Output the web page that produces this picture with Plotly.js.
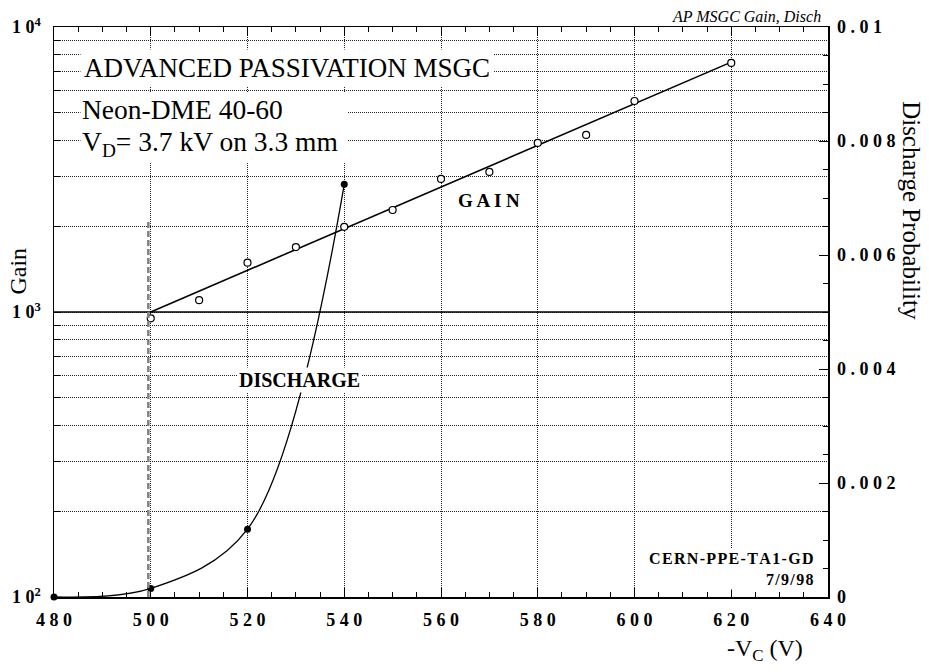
<!DOCTYPE html>
<html>
<head>
<meta charset="utf-8">
<script src="https://cdn.plot.ly/plotly-3.0.1.min.js"></script>
<style>html,body{margin:0;padding:0;background:#fff;}</style>
</head>
<body>
<div id="chart" style="width:929px;height:672px;"></div>
<script>
// ---- data ----
const xTickVals = [480, 500, 520, 540, 560, 580, 600, 620, 640];
const gainV = [500, 510, 520, 530, 540, 550, 560, 570, 580, 590, 600, 620];
const gainVal = [950, 1100, 1490, 1690, 1990, 2280, 2930, 3100, 3920, 4180, 5500, 7480];
const fitV = [500, 620];
const fitGain = [1000, 7530];
const dischV = [480, 500, 520, 540];
const dischProb = [0, 0.00015, 0.00119, 0.00724];
const gainDecades = [100, 1000, 10000];
const gainDecadeLabels = ['1 0<sup>2</sup>', '1 0<sup>3</sup>', '1 0<sup>4</sup>'];
const probTickVals = [0, 0.002, 0.004, 0.006, 0.008, 0.01];
const probTickLabels = ['0', '0.002', '0.004', '0.006', '0.008', '0.01'];

// ---- derived tick tables ----
const spaced = s => String(s).split('').join(' ');
const hair = s => String(s).split('').join('\u200A');
const xTickText = xTickVals.map(spaced);
const gainTickVals = [];
const gainTickText = [];
for (let d = 0; d < gainDecades.length; d++) {
  gainTickVals.push(gainDecades[d]);
  gainTickText.push(gainDecadeLabels[d]);
  if (d < gainDecades.length - 1) {
    for (let m = 2; m <= 9; m++) { gainTickVals.push(gainDecades[d] * m); gainTickText.push(''); }
  }
}
const probTickText = probTickLabels.map(spaced);

const serif = '"Liberation Serif", "Times New Roman", serif';

const traces = [
  { x: dischV, y: dischProb, yaxis: 'y2', type: 'scatter', mode: 'lines',
    line: { color: 'black', width: 1.3, shape: 'spline', smoothing: 1 }, hoverinfo: 'skip' },
  { x: dischV, y: dischProb, yaxis: 'y2', type: 'scatter', mode: 'markers', cliponaxis: false,
    marker: { color: 'black', size: 7, symbol: 'circle' } },
  { x: fitV, y: fitGain, type: 'scatter', mode: 'lines',
    line: { color: 'black', width: 1.6 } },
  { x: gainV, y: gainVal, type: 'scatter', mode: 'markers', cliponaxis: false,
    marker: { color: 'white', size: 7, symbol: 'circle', line: { color: 'black', width: 1.2 } } }
];

const gridDash = '1px,1px';

const layout = {
  width: 929, height: 672,
  margin: { l: 54, r: 101, t: 27, b: 75 },
  paper_bgcolor: 'white', plot_bgcolor: 'white',
  showlegend: false,
  font: { family: serif, color: 'black' },
  xaxis: {
    range: [480, 640], tickvals: xTickVals, ticktext: xTickText,
    tickfont: { family: serif, size: 18, weight: 'bold', color: 'black' },
    showline: true, linecolor: 'black', linewidth: 1.5, mirror: 'ticks',
    ticks: 'inside', ticklen: 9, tickcolor: 'black', tickwidth: 1,
    showgrid: true, gridcolor: '#222', gridwidth: 1, griddash: gridDash,
    zeroline: false, ticklabelstandoff: 6,
    minor: { dtick: 5, tick0: 480, ticks: 'inside', ticklen: 5, tickcolor: 'black', showgrid: false }
  },
  yaxis: {
    type: 'log', range: [2, 4], tickvals: gainTickVals, ticktext: gainTickText,
    tickfont: { family: serif, size: 18, weight: 'bold', color: 'black' },
    showline: true, linecolor: 'black', linewidth: 1.5, mirror: false,
    ticks: 'inside', ticklen: 6, tickcolor: 'black',
    showgrid: true, gridcolor: '#222', gridwidth: 1, griddash: gridDash,
    zeroline: false, ticklabelstandoff: 8
  },
  yaxis2: {
    overlaying: 'y', side: 'right', range: [0, 0.01],
    tickvals: probTickVals, ticktext: probTickText,
    tickfont: { family: serif, size: 18, weight: 'bold', color: 'black' },
    showline: true, linecolor: 'black', linewidth: 1.5,
    ticks: 'inside', ticklen: 9, tickcolor: 'black',
    showgrid: false, zeroline: false, ticklabelstandoff: 4,
    minor: { dtick: 0.0005, tick0: 0, ticks: 'inside', ticklen: 5, tickcolor: 'black', showgrid: false }
  },
  shapes: [
    { type: 'line', xref: 'paper', x0: 0, x1: 1, yref: 'y', y0: 1000, y1: 1000,
      line: { color: 'black', width: 1.3 }, layer: 'above' },
    { type: 'line', xref: 'x', x0: 499.5, x1: 499.5, yref: 'y', y0: 100, y1: 2100,
      line: { color: '#808080', width: 2.5, dash: '6px,3px' }, layer: 'above' }
  ],
  annotations: [
    { xref: 'x', yref: 'y', x: 485.3, y: 3.855, xanchor: 'left', yanchor: 'middle', showarrow: false,
      text: 'ADVANCED PASSIVATION MSGC', bgcolor: 'white', borderpad: 3,
      font: { family: serif, size: 27, color: 'black' } },
    { xref: 'x', yref: 'y', x: 485.3, y: 3.709, xanchor: 'left', yanchor: 'middle', showarrow: false,
      text: 'Neon-DME 40-60', bgcolor: 'white', borderpad: 1, width: 264, align: 'left',
      font: { family: serif, size: 27.5, color: 'black' } },
    { xref: 'x', yref: 'y', x: 485.3, y: 3.59, xanchor: 'left', yanchor: 'middle', showarrow: false,
      text: 'V<sub>D</sub>= 3.7 kV on 3.3 mm', bgcolor: 'white', borderpad: 1, width: 264, align: 'left',
      font: { family: serif, size: 27.5, color: 'black' } },
    { xref: 'x', yref: 'y', x: 570, y: 3.393, xanchor: 'center', yanchor: 'middle', showarrow: false,
      text: 'G A I N', font: { family: serif, size: 19, weight: 'bold', color: 'black' } },
    { xref: 'x', yref: 'y', x: 530.8, y: 2.761, xanchor: 'center', yanchor: 'middle', showarrow: false,
      text: 'DISCHARGE', bgcolor: 'white', borderpad: 1,
      font: { family: serif, size: 20, weight: 'bold', color: 'black' } },
    { xref: 'paper', yref: 'paper', x: 0.983, y: 0.012, xanchor: 'right', yanchor: 'bottom', showarrow: false,
      align: 'right', text: hair('CERN-PPE-TA1-GD') + '<br>' + hair('7/9/98'), bgcolor: 'white', borderpad: 1,
      font: { family: serif, size: 16, weight: 'bold', color: 'black' } },
    { xref: 'paper', yref: 'paper', x: 0.994, y: 1.0, xanchor: 'right', yanchor: 'bottom', showarrow: false,
      text: '<i>AP MSGC Gain, Disch</i>', font: { family: serif, size: 16, color: 'black' } },
    { xref: 'paper', yref: 'paper', x: -0.047, y: 0.572, xanchor: 'center', yanchor: 'middle', showarrow: false,
      textangle: -90, text: 'Gain', font: { family: serif, size: 24, color: 'black' } },
    { xref: 'paper', yref: 'paper', x: 1.1085, y: 0.677, xanchor: 'center', yanchor: 'middle', showarrow: false,
      textangle: 90, text: 'Discharge Probability', font: { family: serif, size: 25, color: 'black' } },
    { xref: 'paper', yref: 'paper', x: 0.97, y: -0.093, xanchor: 'right', yanchor: 'middle', showarrow: false,
      text: '-V<sub>C</sub> (V)', font: { family: serif, size: 24, color: 'black' } }
  ]
};

Plotly.newPlot('chart', traces, layout, { staticPlot: true, displayModeBar: false });
</script>
</body>
</html>
